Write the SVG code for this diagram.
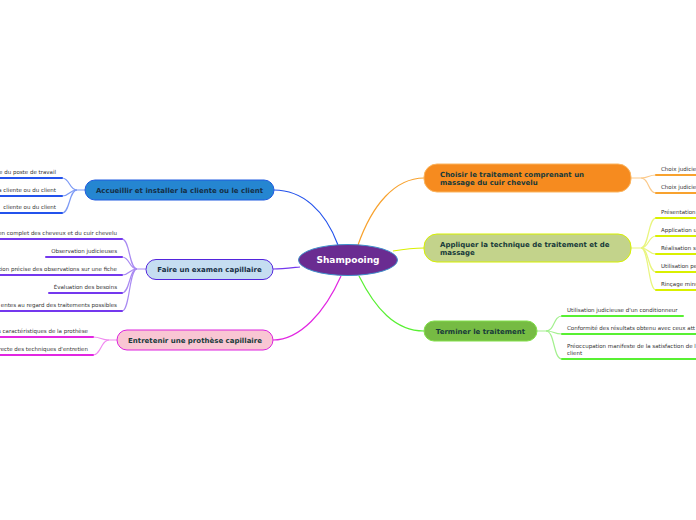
<svg xmlns="http://www.w3.org/2000/svg" width="696" height="520" viewBox="0 0 696 520">
<style>
  .nt{font-family:"DejaVu Sans",sans-serif;font-weight:bold;font-size:7px;fill:#173a3a}
  .lt{font-family:"DejaVu Sans",sans-serif;font-size:5.5px;fill:#333333}
  .c{fill:none;stroke-width:1.2}
  .u{fill:none;stroke-width:2;stroke-linecap:round}
  .blue{stroke:#2352ec}.blueL{stroke:#7d9af5}
  .pur{stroke:#7438ee}.purL{stroke:#a98af2}
  .mag{stroke:#e226e2}.magL{stroke:#f08af0}
  .ora{stroke:#f8a22e}.oraL{stroke:#fbc98a}
  .yel{stroke:#d9f000}.yelL{stroke:#e9f57e}
  .grn{stroke:#58f032}.grnL{stroke:#a3f08e}
</style>
<rect width="696" height="520" fill="#ffffff"/>
<g id="connectors">
  <path class="c ora" d="M358,245 C372,205 395,178 424,178"/>
  <path class="c yel" d="M393,251 C405,249 414,248 424,248"/>
  <path class="c grn" d="M359,276 C375,308 395,331 424,331"/>
  <path class="c blue" d="M338,245 C325,210 302,190 274,190"/>
  <path class="c pur" d="M300,267 C290,268 282,269 273,269"/>
  <path class="c mag" d="M341,276 C325,312 300,340 273,340"/>
  <!-- Accueillir leaves -->
  <path class="c blueL" d="M85,190 L77,190 C69,190 70,178 62,178"/>
  <path class="c blueL" d="M77,190 C69,190 70,196 62,196"/>
  <path class="c blueL" d="M77,190 C69,190 70,213 62,213"/>
  <path class="u blue" d="M0,178 H62 M0,196 H62 M0,213 H62"/>
  <!-- Faire leaves -->
  <path class="c purL" d="M146,269 L137,269 C129,269 130,239 122,239"/>
  <path class="c purL" d="M137,269 C129,269 130,257 122,257"/>
  <path class="c purL" d="M137,269 C129,269 130,275 122,275"/>
  <path class="c purL" d="M137,269 C129,269 130,293 122,293"/>
  <path class="c purL" d="M137,269 C129,269 130,311 122,311"/>
  <path class="u pur" d="M0,239 H122 M46,257 H122 M0,275 H122 M49,293 H122 M0,311 H122"/>
  <!-- Entretenir leaves -->
  <path class="c magL" d="M117,340 L109,340 C101,340 101,337 93,337"/>
  <path class="c magL" d="M109,340 C101,340 101,355 93,355"/>
  <path class="u mag" d="M0,337 H93 M0,355 H93"/>
  <!-- Choisir leaves -->
  <path class="c oraL" d="M631,178 L641,178 C649,178 648,175 656,175"/>
  <path class="c oraL" d="M641,178 C649,178 648,193 656,193"/>
  <path class="u ora" d="M656,175 H696 M656,193 H696"/>
  <!-- Appliquer leaves -->
  <path class="c yelL" d="M631,248 L641,248 C649,248 648,218 656,218"/>
  <path class="c yelL" d="M641,248 C649,248 648,236 656,236"/>
  <path class="c yelL" d="M641,248 C649,248 648,254 656,254"/>
  <path class="c yelL" d="M641,248 C649,248 648,272 656,272"/>
  <path class="c yelL" d="M641,248 C649,248 648,290 656,290"/>
  <path class="u yel" d="M656,218 H696 M656,236 H696 M656,254 H696 M656,272 H696 M656,290 H696"/>
  <!-- Terminer leaves -->
  <path class="c grnL" d="M537,331 L546,331 C555,331 553,316 562,316"/>
  <path class="c grnL" d="M546,331 C555,331 553,334 562,334"/>
  <path class="c grnL" d="M546,331 C555,331 553,359 562,359"/>
  <path class="u grn" d="M562,316 H683 M562,334 H696 M562,359 H696"/>
</g>
<g id="center">
  <ellipse cx="348" cy="260" rx="49.5" ry="15.5" fill="#6a2c91" stroke="#3f8fca" stroke-width="1"/>
  <text x="348" y="263.3" text-anchor="middle" font-family="DejaVu Sans, sans-serif" font-weight="bold" font-size="9px" fill="#ffffff">Shampooing</text>
</g>
<g id="n-choisir">
  <rect x="424" y="164" width="207" height="28" rx="13" fill="#f68b1f" stroke="#fbb45e" stroke-width="1"/>
  <text class="nt" x="440" y="176.5">Choisir le traitement comprenant un</text>
  <text class="nt" x="440" y="185">massage du cuir chevelu</text>
</g>
<g id="n-appliquer">
  <rect x="424" y="234" width="207" height="28" rx="13" fill="#c3d38b" stroke="#d6f000" stroke-width="1"/>
  <text class="nt" x="440" y="246.5">Appliquer la technique de traitement et de</text>
  <text class="nt" x="440" y="255">massage</text>
</g>
<g id="n-terminer">
  <rect x="424" y="321" width="113" height="20" rx="10" fill="#76bb43" stroke="#82e04a" stroke-width="1"/>
  <text class="nt" x="480.5" y="333.5" text-anchor="middle">Terminer le traitement</text>
</g>
<g id="n-accueillir">
  <rect x="85" y="180" width="189" height="20" rx="10" fill="#2586d1" stroke="#1f5be0" stroke-width="1"/>
  <text class="nt" x="179.5" y="193" text-anchor="middle" style="fill:#152f45">Accueillir et installer la cliente ou le client</text>
</g>
<g id="n-faire">
  <rect x="146" y="259.5" width="127" height="20" rx="10" fill="#c5ddf1" stroke="#5324dd" stroke-width="1"/>
  <text class="nt" x="209.5" y="272" text-anchor="middle" style="fill:#152f45">Faire un examen capillaire</text>
</g>
<g id="n-entretenir">
  <rect x="117" y="330" width="156" height="20" rx="10" fill="#f9c6d3" stroke="#dd22dd" stroke-width="1"/>
  <text class="nt" x="195" y="343" text-anchor="middle">Entretenir une prothèse capillaire</text>
</g>
<g id="leaves">
  <text class="lt" x="56" y="174" text-anchor="end">e du poste de travail</text>
  <text class="lt" x="56" y="192" text-anchor="end">a cliente ou du client</text>
  <text class="lt" x="56" y="209" text-anchor="end">cliente ou du client</text>
  <text class="lt" x="117" y="235" text-anchor="end">en complet des cheveux et du cuir chevelu</text>
  <text class="lt" x="117" y="253" text-anchor="end">Observation judicieuses</text>
  <text class="lt" x="117" y="271" text-anchor="end">tion précise des observations sur une fiche</text>
  <text class="lt" x="117" y="289" text-anchor="end">Évaluation des besoins</text>
  <text class="lt" x="117" y="307" text-anchor="end">entes au regard des traitements possibles</text>
  <text class="lt" x="88" y="333" text-anchor="end">s caractéristiques de la prothèse</text>
  <text class="lt" x="88" y="351" text-anchor="end">recte des techniques d'entretien</text>
  <text class="lt" x="661" y="171">Choix judicieu</text>
  <text class="lt" x="661" y="189">Choix judicieu</text>
  <text class="lt" x="661" y="214">Présentation</text>
  <text class="lt" x="661" y="232">Application u</text>
  <text class="lt" x="661" y="250">Réalisation s</text>
  <text class="lt" x="661" y="268">Utilisation pe</text>
  <text class="lt" x="661" y="286">Rinçage minu</text>
  <text class="lt" x="567" y="312">Utilisation judicieuse d'un conditionneur</text>
  <text class="lt" x="567" y="330">Conformité des résultats obtenu avec ceux att</text>
  <text class="lt" x="567" y="348">Préoccupation manifeste de la satisfaction de l</text>
  <text class="lt" x="567" y="354.5">client</text>
</g>
</svg>
